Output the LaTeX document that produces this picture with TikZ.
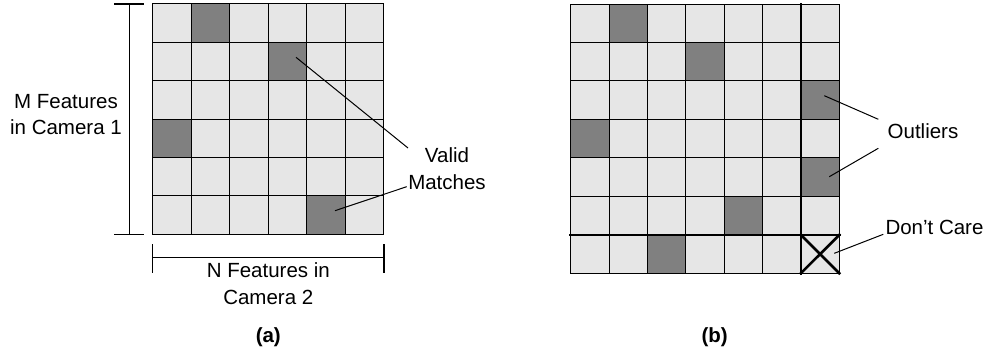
\documentclass[tikz,border=0pt]{standalone}
\usepackage{fontspec}
\setmainfont{Liberation Sans}
\definecolor{ccl}{HTML}{E6E6E6}
\definecolor{ccd}{HTML}{808080}
\begin{document}
\begin{tikzpicture}[x=1pt,y=-1pt,
  cellbase/.style={draw=black,line width=1pt,inner sep=0pt,outer sep=0pt,minimum width=38.45pt,minimum height=38.4pt},
  lbl/.style={font=\fontsize{20.5}{26.6}\selectfont,align=center,inner sep=0pt,anchor=base},
  captxt/.style={font=\fontsize{20.5}{24}\selectfont\bfseries,inner sep=0pt,anchor=base},
  lead/.style={draw=black,line width=1pt},
  bracket/.style={draw=black,line width=1.2pt},
  heavy/.style={draw=black,line width=2.6pt,line cap=rect}]
\useasboundingbox (0,0) rectangle (989,358);

% left grid (a)
\foreach \r/\row in {0/{l,d,l,l,l,l},1/{l,l,l,d,l,l},2/{l,l,l,l,l,l},3/{d,l,l,l,l,l},4/{l,l,l,l,l,l},5/{l,l,l,l,d,l}}{
  \foreach \k [count=\c from 0] in \row {
    \node[cellbase,fill=cc\k] (a-\r-\c) at ({152.7+38.55*(\c+0.5)},{4+38.38*(\r+0.5)}) {};
  }
}

% right grid (b)
\foreach \r/\row in {0/{l,d,l,l,l,l,l},1/{l,l,l,d,l,l,l},2/{l,l,l,l,l,l,d},3/{d,l,l,l,l,l,l},4/{l,l,l,l,l,l,d},5/{l,l,l,l,d,l,l},6/{l,l,d,l,l,l,l}}{
  \foreach \k [count=\c from 0] in \row {
    \node[cellbase,fill=cc\k] (b-\r-\c) at ({570.7+38.37*(\c+0.5)},{4+38.47*(\r+0.5)}) {};
  }
}

% heavy separators and cross
\draw[heavy] (b-0-6.north west) -- (b-6-6.south west);
\draw[heavy] (b-6-0.north west) -- (b-6-6.north east);
\draw[heavy] (b-6-6.north west) -- (b-6-6.south east)
             (b-6-6.north east) -- (b-6-6.south west);

% brackets
\draw[bracket] (114.3,4) -- (144,4) (114.3,234.3) -- (144,234.3) (129.3,4) -- (129.3,234.3);
\draw[bracket] (152.7,244.3) -- (152.7,273.3) (384,244.3) -- (384,273.3) (152.7,257.7) -- (384,257.7);

% labels (base anchor = baseline of last line)
\node[lbl] (mf) at (66,135) {M Features\\in Camera 1};
\node[lbl] (nf) at (268.3,304.3) {N Features in\\Camera 2};
\node[lbl] (vm) at (447,189.3) {Valid\\Matches};
\node[lbl] (ol) at (923,138.3) {Outliers};
\node[lbl] (dc) at (934.5,234.3) {Don’t Care};
\node[captxt] (capa) at (268.3,343) {(a)};
\node[captxt] (capb) at (714.7,343) {(b)};

% leader lines
\coordinate (vmA) at (296,57.3);
\coordinate (vmAe) at (408,148);
\coordinate (vmB) at (335,210.7);
\coordinate (vmBe) at (406.7,186.7);
\coordinate (olA) at (824.3,95.7);
\coordinate (olAe) at (878.3,119.3);
\coordinate (olB) at (829.3,176.7);
\coordinate (olBe) at (878.3,148.3);
\coordinate (dcA) at (834.3,253.3);
\coordinate (dcAe) at (883.3,234.3);
\draw[lead] (vmA) -- (vmAe);
\draw[lead] (vmB) -- (vmBe);
\draw[lead] (olA) -- (olAe);
\draw[lead] (olB) -- (olBe);
\draw[lead] (dcA) -- (dcAe);
\end{tikzpicture}
\end{document}
